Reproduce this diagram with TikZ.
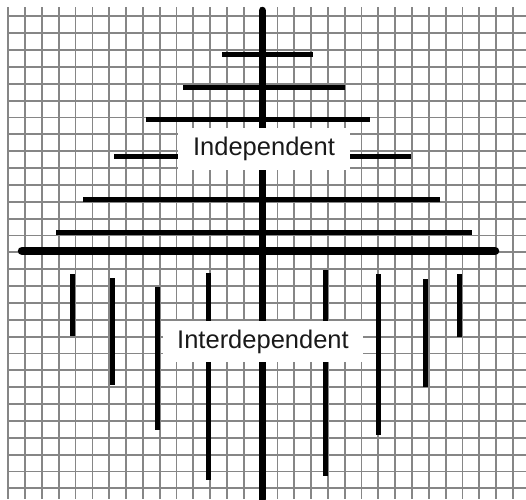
\documentclass[tikz,border=0pt]{standalone}
\usepackage{fontspec}
\setmainfont{Liberation Sans}
\usetikzlibrary{arrows.meta}

\begin{document}
\begin{tikzpicture}[x=1pt, y=-1pt,
    gridline/.style={draw=gray!95, line width=1.8pt},
    bar/.style={draw=black, line width=5pt},
    labelbox/.style={fill=white, inner sep=0pt, text=black!90,
                     font=\fontsize{25.5}{30}\selectfont}]

  \useasboundingbox (0,0) rectangle (526,499);
  \fill[white] (0,0) rectangle (526,499);

  % --- Graph paper ---
  \foreach \i in {0,...,30}
    \draw[gridline] ({8.3+16.82*\i}, 7) -- ({8.3+16.82*\i}, 499);
  \foreach \j in {0,...,28}
    \draw[gridline] (7, {16.3+16.86*\j}) -- (526, {16.3+16.86*\j});

  % --- Horizontal bars (upper half) ---
  \foreach \y/\xa/\xb in {54/222/313, 87.5/183/345, 119.5/146/370,
                          156/114/411, 199/83/440, 232.5/56/471.5}
    \draw[bar] (\xa, \y) -- (\xb, \y);

  % --- Base bar ---
  \draw[bar, line width=8.5pt, line cap=round] (22, 251) -- (495, 251);

  % --- Vertical bars (lower half) ---
  \foreach \x/\ya/\yb in {72.3/274/336, 112.7/278/385, 157.7/287/430,
                          208.3/273/480, 325.7/270/476, 378/274/435,
                          425.7/279/387, 459/274/337}
    \draw[bar] (\x, \ya) -- (\x, \yb);

  % --- Main axis ---
  \draw[bar, line width=7.5pt, line cap=round] (262.3, 10.5) -- (262.3, 499);

  % --- Labels ---
  \node[labelbox, minimum width=172pt, minimum height=42pt] (indep)
    at (264, 149) {Independent};
  \node[labelbox, minimum width=200pt, minimum height=41pt] (interdep)
    at (263, 341.5) {Interdependent};

\end{tikzpicture}
\end{document}
